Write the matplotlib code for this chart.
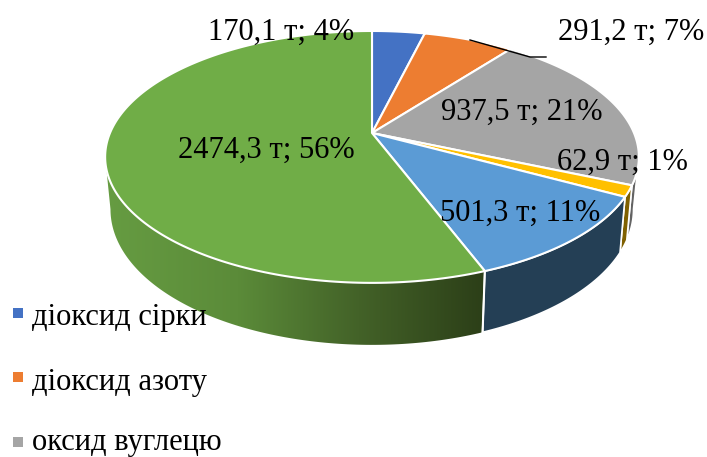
import numpy as np
import matplotlib
matplotlib.use("Agg")
import matplotlib.pyplot as plt
from matplotlib.colors import LinearSegmentedColormap
from matplotlib.patches import Polygon

plt.rcParams['font.family'] = ['Liberation Serif', 'DejaVu Serif']

# tons per pollutant, clockwise from 12 o'clock
values = [170.1, 291.2, 937.5, 62.9, 501.3, 2474.3]
colors = ['#4472C4', '#ED7D31', '#A5A5A5', '#FFC000', '#5B9BD5', '#70AD47']
wall_colors = ['#294476', '#8E4B1D', '#636363', '#7F6000', '#243F55', '#4A7030']
legend_names = ['діоксид сірки', 'діоксид азоту', 'оксид вуглецю']

# where the label of each slice starts (left x, baseline y)
label_pos = [(208, 40), (558, 40), (441, 120), (557, 170), (440, 221), (178, 158)]
legend_y = [325, 390, 450]
legend_marker_y = [313, 377, 442]

# perspective of the pie, in pixels
cx, cy = 372, 133
rx, ry, k = 262, 121.4, 0.19


def top_rim(t):
    u, v = np.sin(t), np.cos(t)
    w = 1 + k * v
    return cx + rx * u / w, cy - ry * v / w


def bottom_rim(t):
    x, y = top_rim(t)
    return cx + (x - cx) * 0.98, y + 50 - 12 * np.cos(t)


fig = plt.figure(figsize=(7.07, 4.57), dpi=100)
ax = fig.add_axes([0, 0, 1, 1])
ax.set_xlim(0, 707)
ax.set_ylim(457, 0)
ax.axis('off')

total = sum(values)
edges = np.concatenate([[0], np.cumsum(values)]) / total * 2 * np.pi
wall_from = np.arccos(-k)
wall_to = 2 * np.pi - wall_from

# side walls
for i in range(len(values)):
    a = max(edges[i], wall_from)
    b = min(edges[i + 1], wall_to)
    if b <= a:
        continue
    t = np.linspace(a, b, 120)
    xt, yt = top_rim(t)
    xb, yb = bottom_rim(t)
    pts = np.column_stack([np.r_[xt, xb[::-1]], np.r_[yt, yb[::-1]]])
    if i == len(values) - 1:
        cmap = LinearSegmentedColormap.from_list(
            'wall', [(0, '#669C42'), (0.35, '#5B8B39'), (0.67, '#436228'), (1, '#2C3F18')])
        patch = Polygon(pts, closed=True, fc='none', ec='none')
        ax.add_patch(patch)
        im = ax.imshow(np.linspace(0, 1, 256).reshape(1, -1), cmap=cmap, aspect='auto',
                       extent=(105, 484, 360, 150), zorder=1)
        im.set_clip_path(patch)
        ax.set_xlim(0, 707)
        ax.set_ylim(457, 0)
        ax.plot([pts[0, 0], pts[-1, 0]], [pts[0, 1], pts[-1, 1]], color='white', lw=1.5, zorder=2)
    else:
        ax.add_patch(Polygon(pts, closed=True, fc=wall_colors[i], ec='white', lw=1.2, zorder=2))

# top face
for i in range(len(values)):
    t = np.linspace(edges[i], edges[i + 1], 200)
    x, y = top_rim(t)
    pts = np.column_stack([np.r_[cx, x], np.r_[cy, y]])
    ax.add_patch(Polygon(pts, closed=True, fc=colors[i], ec='white', lw=1.5, joinstyle='round', zorder=3))

# leader line of the 7% label
ax.plot([470, 530, 546], [40, 57, 57], color='black', lw=1, zorder=4)

for val, (lx, ly) in zip(values, label_pos):
    txt = f"{val:.1f}".replace('.', ',') + f" т; {val / total * 100:.0f}%"
    ax.text(lx, ly, txt, fontsize=22, color='black', ha='left', va='baseline', zorder=5)

for name, col, ly, my in zip(legend_names, colors, legend_y, legend_marker_y):
    ax.scatter([18], [my], marker='s', s=44, color=col, linewidths=0, zorder=5)
    ax.text(32, ly, name, fontsize=22, color='black', ha='left', va='baseline', zorder=5)

fig.savefig('out.png', dpi=100)
